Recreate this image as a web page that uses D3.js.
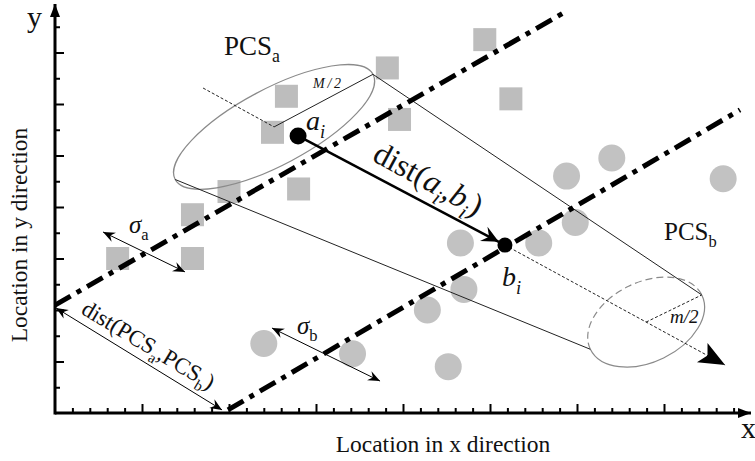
<!DOCTYPE html>
<html lang="en">
<head>
<meta charset="UTF-8">
<title>PCS distance sketch</title>
<script src="https://d3js.org/d3.v7.min.js"></script>
<style>
  body { margin: 0; background: #fff; }
  svg { display: block; font-family: "Liberation Serif", "Times New Roman", serif; }
</style>
</head>
<body>
<svg width="755" height="461"></svg>
<script>
  // everything is in grid units (one unit = one small tick)
  const xTicks = d3.range(1, 40);
  const yTicks = d3.range(1, 16);

  const squares = [[3.6, 6.0], [7.9, 6.0], [7.9, 7.7], [10.0, 8.6], [14.0, 8.7], [12.5, 10.9],
                   [13.3, 12.3], [19.1, 13.4], [19.8, 11.4], [24.7, 14.5], [26.2, 12.2]];
  const circles = [[12.0, 2.7], [17.1, 2.3], [21.4, 4.0], [22.6, 1.8], [23.5, 4.8], [23.3, 6.6],
                   [27.8, 6.6], [29.9, 7.4], [29.4, 9.2], [32.0, 9.9], [38.4, 9.1]];

  const pcsLineA = [[0, 4.19], [29.2, 15.53]];
  const pcsLineB = [[9.94, 0.12], [39.37, 11.77]];
  const pointA = [13.97, 10.76];
  const pointB = [25.86, 6.52];
  const sectionA = [12.59, 11.11];
  const sectionB = [33.97, 3.53];
  const axisStart = [8.51, 12.62];
  const axisEnd = [38.51, 1.86];
  const sigmaA = [[2.76, 7.03], [7.47, 5.48]];
  const sigmaB = [[12.47, 3.30], [18.68, 1.24]];
  const pcsGap = [[0.06, 4.08], [9.6, 0.12]];

  const svg = d3.select("svg");
  const x = d3.scaleLinear().domain([0, 40]).range([55, 751]);
  const y = d3.scaleLinear().domain([0, 16]).range([413, 1]);
  const P = d => [x(d[0]), y(d[1])];

  // markers
  const defs = svg.append("defs");
  function marker(id, path, w) {
    defs.append("marker")
      .attr("id", id)
      .attr("viewBox", `${-w - 1} ${-w / 2 - 1} ${w + 2} ${w + 2}`)
      .attr("refX", 0).attr("refY", 0)
      .attr("markerUnits", "userSpaceOnUse")
      .attr("markerWidth", w + 2).attr("markerHeight", w + 2)
      .attr("orient", "auto-start-reverse")
      .append("path").attr("d", path).attr("fill", "#000");
  }
  marker("barb", "M0,0 L-12,-5 L-8,0 L-12,5 Z", 12);
  marker("barbBig", "M0,0 L-17,-8 L-11,0 L-17,8 Z", 17);
  marker("tri", "M0,0 L-26,-11 L-20,0 L-26,11 Z", 26);
  marker("axisArrow", "M0,0 L-13,-5 L-13,5 Z", 13);

  // axes
  const xAxis = svg.append("g")
    .attr("transform", `translate(0,${y(0)})`)
    .call(d3.axisBottom(x).tickValues(xTicks).tickSize(-5).tickFormat(""));
  xAxis.select(".domain").remove();
  xAxis.selectAll(".tick line").attr("y2", d => d % 5 === 0 ? -9 : -5).attr("stroke-width", 2);

  const yAxis = svg.append("g")
    .attr("transform", `translate(${x(0)},0)`)
    .call(d3.axisLeft(y).tickValues(yTicks).tickSize(-5).tickFormat(""));
  yAxis.select(".domain").remove();
  yAxis.selectAll(".tick line").attr("x2", d => d % 2 === 0 ? 9 : 5).attr("stroke-width", 2);

  svg.append("line")
    .attr("x1", x(0)).attr("y1", y(0)).attr("x2", 751).attr("y2", y(0))
    .attr("stroke", "#000").attr("stroke-width", 3).attr("marker-end", "url(#axisArrow)");
  svg.append("line")
    .attr("x1", x(0)).attr("y1", y(0) + 1.5).attr("x2", x(0)).attr("y2", 4)
    .attr("stroke", "#000").attr("stroke-width", 3).attr("marker-end", "url(#axisArrow)");

  // points
  svg.append("g").selectAll("rect")
    .data(squares)
    .enter()
    .append("rect")
    .attr("x", d => x(d[0]) - 11.5)
    .attr("y", d => y(d[1]) - 11.5)
    .attr("width", 23).attr("height", 23)
    .attr("fill", "#bdbdbd");

  svg.append("g").selectAll("circle")
    .data(circles)
    .enter()
    .append("circle")
    .attr("cx", d => x(d[0]))
    .attr("cy", d => y(d[1]))
    .attr("r", 13.5)
    .attr("fill", "#c2c2c2");

  // cylinder
  function ept(c, rx, ry, rot, t) {
    const a = rot * Math.PI / 180;
    const [cx, cy] = P(c);
    const u = rx * Math.cos(t), v = ry * Math.sin(t);
    return [cx + u * Math.cos(a) - v * Math.sin(a), cy + u * Math.sin(a) + v * Math.cos(a)];
  }
  const eA = { rx: 112, ry: 38, rot: -28 };
  const eB = { rx: 62, ry: 40, rot: -26 };

  svg.append("ellipse")
    .attr("cx", x(sectionA[0])).attr("cy", y(sectionA[1]))
    .attr("rx", eA.rx).attr("ry", eA.ry)
    .attr("transform", `rotate(${eA.rot} ${x(sectionA[0])} ${y(sectionA[1])})`)
    .attr("fill", "none").attr("stroke", "#8a8a8a").attr("stroke-width", 1.2);

  const b0 = ept(sectionB, eB.rx, eB.ry, eB.rot, 0);
  const bPi = ept(sectionB, eB.rx, eB.ry, eB.rot, Math.PI);
  svg.append("path")
    .attr("d", `M${b0} A${eB.rx},${eB.ry} ${eB.rot} 0 1 ${bPi}`)
    .attr("fill", "none").attr("stroke", "#8a8a8a").attr("stroke-width", 1.2);
  svg.append("path")
    .attr("d", `M${bPi} A${eB.rx},${eB.ry} ${eB.rot} 0 1 ${b0}`)
    .attr("fill", "none").attr("stroke", "#8a8a8a").attr("stroke-width", 1.2)
    .attr("stroke-dasharray", "7,4");

  const a0 = ept(sectionA, eA.rx, eA.ry, eA.rot, 0);
  const aPi = ept(sectionA, eA.rx, eA.ry, eA.rot, Math.PI);
  const thin = (p, q) => svg.append("line")
    .attr("x1", p[0]).attr("y1", p[1]).attr("x2", q[0]).attr("y2", q[1])
    .attr("stroke", "#222").attr("stroke-width", 1);
  thin(a0, b0);
  thin(aPi, bPi);
  thin(P(sectionA), a0);
  thin(P(sectionB), b0).attr("stroke-dasharray", "3,2");

  // principal direction
  thin(P(axisStart), P(sectionA)).attr("stroke-dasharray", "3,2");
  thin(P(pointB), P(axisEnd)).attr("stroke-dasharray", "3,2").attr("marker-end", "url(#tri)");

  // PCS lines
  [pcsLineA, pcsLineB].forEach(l => {
    svg.append("line")
      .attr("x1", x(l[0][0])).attr("y1", y(l[0][1]))
      .attr("x2", x(l[1][0])).attr("y2", y(l[1][1]))
      .attr("stroke", "#000").attr("stroke-width", 5)
      .attr("stroke-dasharray", "18,7,5,7");
  });

  // thin double arrows
  [sigmaA, sigmaB, pcsGap].forEach(l => {
    svg.append("line")
      .attr("x1", x(l[0][0])).attr("y1", y(l[0][1]))
      .attr("x2", x(l[1][0])).attr("y2", y(l[1][1]))
      .attr("stroke", "#000").attr("stroke-width", 1)
      .attr("marker-start", "url(#barb)").attr("marker-end", "url(#barb)");
  });

  // a_i -> b_i
  const pa = P(pointA), pb = P(pointB);
  const len = Math.hypot(pb[0] - pa[0], pb[1] - pa[1]);
  const k = (len - 7) / len;
  svg.append("line")
    .attr("x1", pa[0]).attr("y1", pa[1])
    .attr("x2", pa[0] + (pb[0] - pa[0]) * k).attr("y2", pa[1] + (pb[1] - pa[1]) * k)
    .attr("stroke", "#000").attr("stroke-width", 2.5)
    .attr("marker-end", "url(#barbBig)");
  svg.append("circle").attr("cx", pa[0]).attr("cy", pa[1]).attr("r", 8.5).attr("fill", "#000");
  svg.append("circle").attr("cx", pb[0]).attr("cy", pb[1]).attr("r", 7.5).attr("fill", "#000");

  // text
  function rich(px, py, rot, size, parts) {
    const t = svg.append("text")
      .attr("transform", `translate(${px},${py}) rotate(${rot})`)
      .attr("font-size", size).attr("fill", "#111");
    let down = false;
    parts.forEach(p => {
      const s = t.append("tspan").text(p.t);
      if (p.it) s.attr("font-style", "italic");
      if (p.sub) {
        s.attr("font-size", size * 0.66);
        if (!down) { s.attr("dy", size * 0.27); down = true; }
      } else if (down) {
        s.attr("dy", -size * 0.27); down = false;
      }
    });
    return t;
  }

  rich(27, 27, 0, 30, [{ t: "y" }]);
  rich(741, 438, 0, 30, [{ t: "x" }]);
  rich(443, 452, 0, 23.5, [{ t: "Location in x direction" }]).attr("text-anchor", "middle");
  rich(27, 235, -90, 23.5, [{ t: "Location in y direction" }]).attr("text-anchor", "middle");

  rich(224, 55, 0, 27, [{ t: "PCS" }, { t: "a", sub: true }]);
  rich(664, 240, 0, 25, [{ t: "PCS" }, { t: "b", sub: true }]);
  rich(313, 88, 0, 14, [{ t: "M/2", it: true }]).attr("textLength", 28);
  rich(670, 323, 0, 19, [{ t: "m/2", it: true }]);
  rich(306, 130, 0, 28, [{ t: "a", it: true }, { t: "i", it: true, sub: true }]);
  rich(502, 286, 0, 28, [{ t: "b", it: true }, { t: "i", it: true, sub: true }]);
  rich(129, 233, 0, 25, [{ t: "σ", it: true }, { t: "a", sub: true }]);
  rich(297, 334, 0, 25, [{ t: "σ", it: true }, { t: "b", sub: true }]);

  rich(371, 160, 28.5, 32, [{ t: "dist(" }, { t: "a", it: true }, { t: "i", it: true, sub: true },
    { t: "," }, { t: "b", it: true }, { t: "i", it: true, sub: true }, { t: ")" }]);
  rich(80, 313, 31, 23, [{ t: "dist(PCS" }, { t: "a", sub: true }, { t: ",PCS" },
    { t: "b", sub: true }, { t: ")" }]);
</script>
</body>
</html>
